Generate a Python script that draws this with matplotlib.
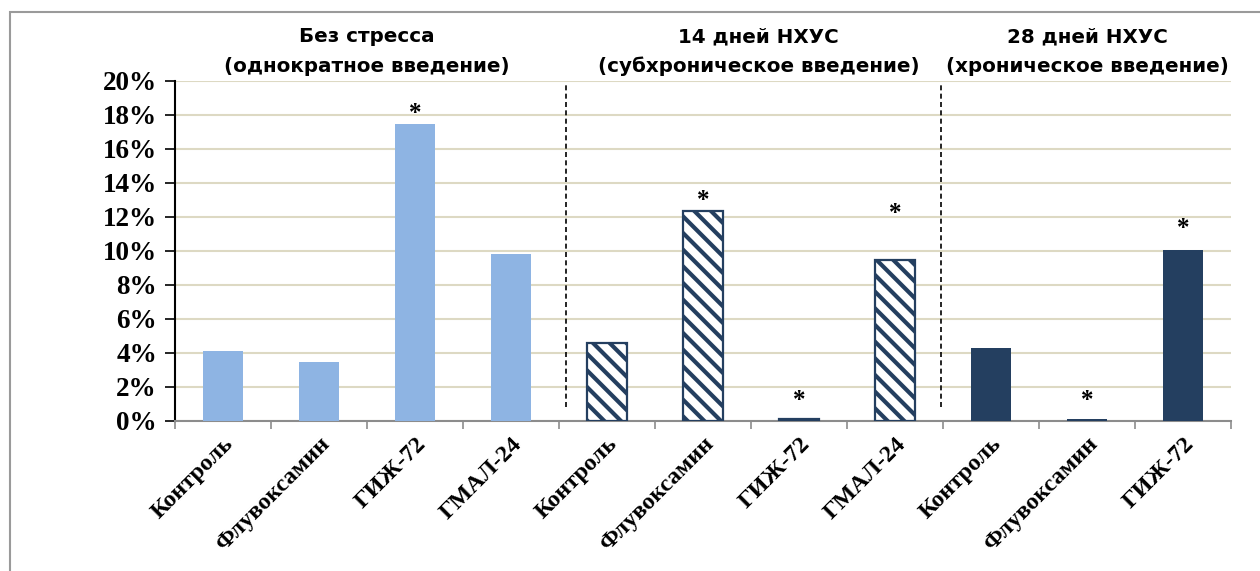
import matplotlib.pyplot as plt
from matplotlib.patches import Rectangle
from matplotlib.ticker import PercentFormatter
import matplotlib as mpl

# Доля животных по группам, %
labels = ['Контроль', 'Флувоксамин', 'ГИЖ-72', 'ГМАЛ-24',
          'Контроль', 'Флувоксамин', 'ГИЖ-72', 'ГМАЛ-24',
          'Контроль', 'Флувоксамин', 'ГИЖ-72']
values = [4.1, 3.5, 17.5, 9.8,
          4.6, 12.35, 0.1, 9.45,
          4.3, 0.1, 10.05]
# положение звёздочки (достоверность), % по оси Y
star_pos = [None, None, 18.1, None,
            None, 13.0, 1.2, 12.2,
            None, 1.2, 11.3]
group_titles = ['Без стресса', '14 дней НХУС', '28 дней НХУС']
group_modes = ['(однократное введение)', '(субхроническое введение)',
               '(хроническое введение)']
group_centers = [1.5, 5.58, 9.0]
separators = [3.57, 7.48]

light_blue = '#8EB4E3'
navy = '#243F60'
mpl.rcParams['hatch.color'] = navy
mpl.rcParams['hatch.linewidth'] = 3.0

fig = plt.figure(figsize=(12.6, 5.71), dpi=100)
fig.patches.append(Rectangle((10 / 1260, -0.05), 1.2, 1 - 12 / 571 + 0.05,
                             transform=fig.transFigure, fill=False,
                             edgecolor='#9a9a9a', linewidth=1.5))

ax = fig.add_axes([175 / 1260, 1 - 421 / 571, (1231 - 175) / 1260, (421 - 81) / 571])
x = range(len(values))
w = 0.41
for i, v in enumerate(values):
    if i < 4:
        ax.bar(i, v, w, color=light_blue, zorder=3)
    elif i < 8:
        ax.bar(i, v, w, color='white', edgecolor=navy, hatch='\\\\',
               linewidth=1.6, zorder=3)
    else:
        ax.bar(i, v, w, color=navy, zorder=3)
    if star_pos[i] is not None:
        ax.text(i, star_pos[i], '*', ha='center', va='center',
                fontsize=18, fontweight='bold', family='Liberation Serif')

for s in separators:
    ax.plot([s, s], [0.8, 19.9], color='black', linestyle=(0, (3, 2)), linewidth=1.2)

ax.set_xlim(-0.5, 10.5)
ax.set_ylim(0, 20)
ax.set_yticks(range(0, 21, 2))
ax.yaxis.set_major_formatter(PercentFormatter(decimals=0))
ax.grid(axis='y', color='#ddd9c3', linewidth=1.5, zorder=0)
ax.set_axisbelow(True)

ax.set_xticks([i - 0.5 for i in range(12)], minor=False)
ax.set_xticklabels([''] * 12)
ax.set_xticks(list(x), minor=True)
ax.set_xticklabels(labels, minor=True, rotation=45, ha='right',
                   rotation_mode='anchor', fontsize=17.5, fontweight='bold',
                   family='Liberation Serif')
ax.tick_params(axis='x', which='minor', length=0, pad=9)
ax.tick_params(axis='x', which='major', length=6, color='#8c8c8c', width=1.2)
ax.tick_params(axis='y', length=7, width=1.2, color='black', pad=6)
for t in ax.get_yticklabels():
    t.set_fontsize(19.5)
    t.set_fontweight('bold')
    t.set_family('Liberation Serif')

for side in ['top', 'right']:
    ax.spines[side].set_visible(False)
ax.spines['left'].set_color('black')
ax.spines['left'].set_linewidth(1.5)
ax.spines['bottom'].set_color('#8c8c8c')
ax.spines['bottom'].set_linewidth(1.5)

for c, t1, t2 in zip(group_centers, group_titles, group_modes):
    ax.text(c, 22.59, t1, ha='center', va='center', fontsize=14.3,
            fontweight='bold', family='DejaVu Sans')
    ax.text(c, 20.88, t2, ha='center', va='center', fontsize=14.3,
            fontweight='bold', family='DejaVu Sans')

fig.savefig('out.png', dpi=100)
